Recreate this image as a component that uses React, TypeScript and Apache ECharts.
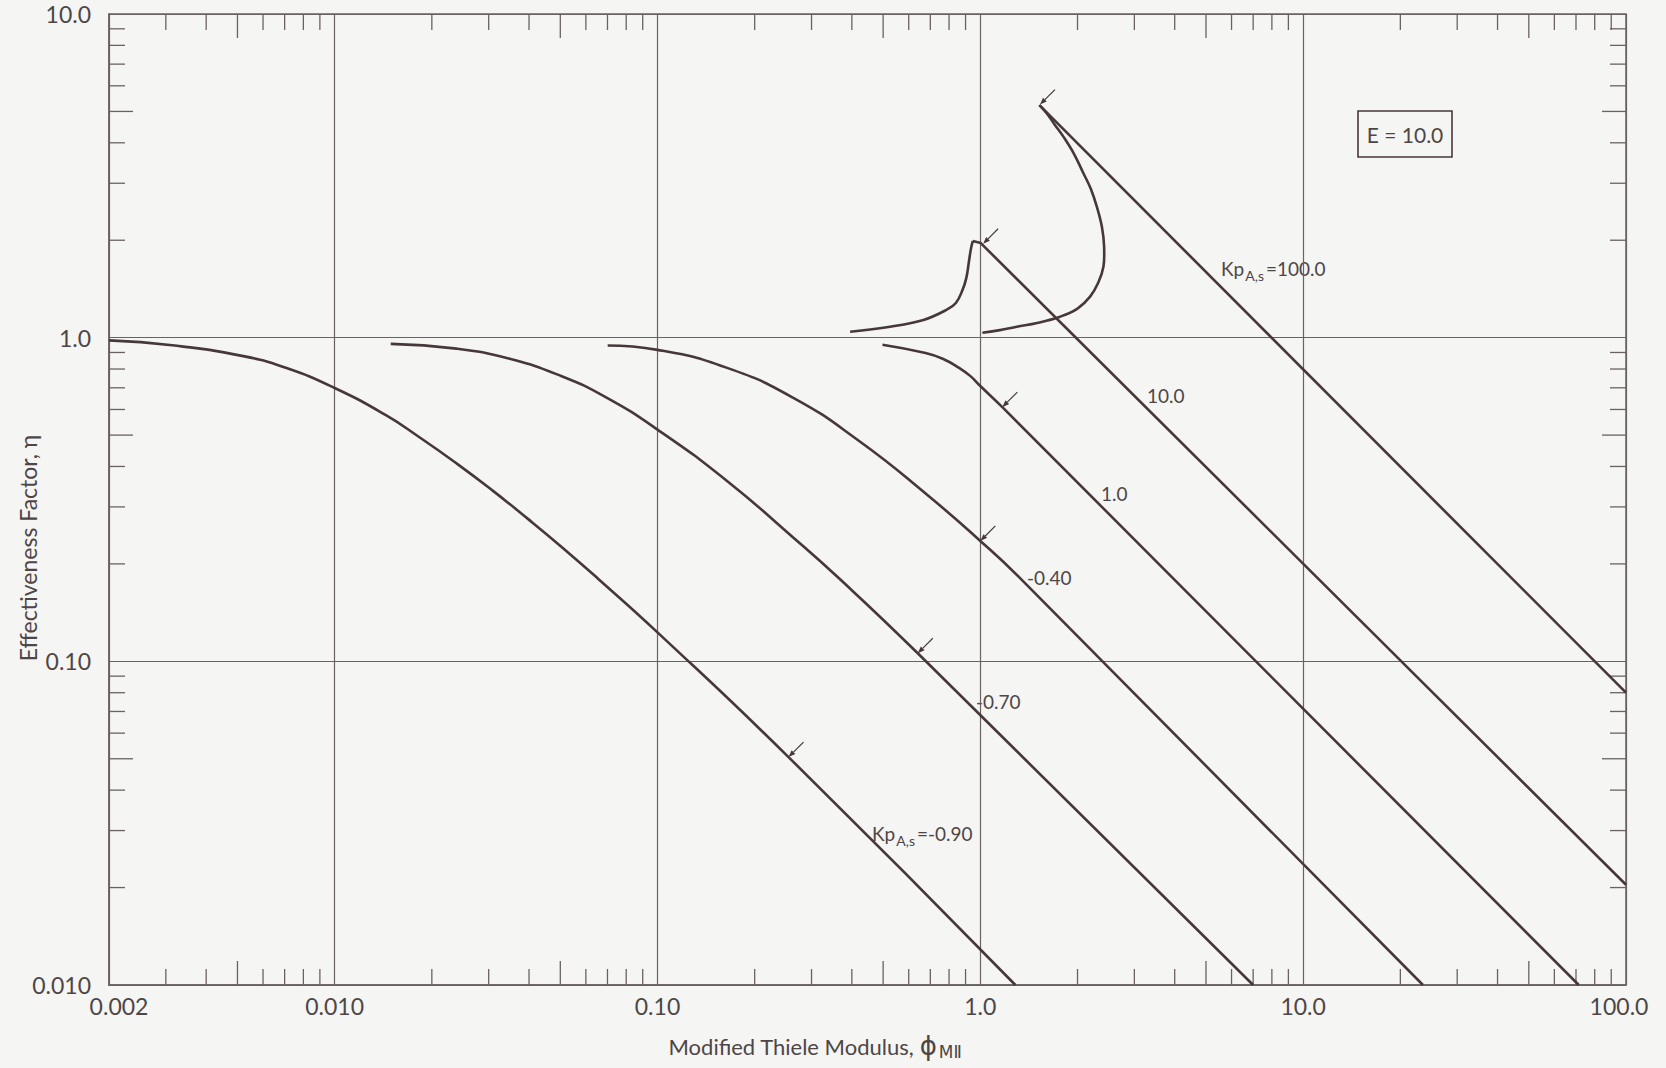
import React, { useEffect, useRef } from 'react';
import * as echarts from 'echarts';

// ---- axis ticks ----
const xTickValues = [0.002, 0.01, 0.1, 1, 10, 100];
const xTickLabels = ['0.002', '0.010', '0.10', '1.0', '10.0', '100.0'];
const yTickValues = [0.01, 0.1, 1, 10];
const yTickLabels = ['0.010', '0.10', '1.0', '10.0'];

const xMinorTicks = [
  0.003, 0.004, 0.006, 0.007, 0.008, 0.009,
  0.02, 0.03, 0.04, 0.06, 0.07, 0.08, 0.09,
  0.2, 0.3, 0.4, 0.6, 0.7, 0.8, 0.9,
  2, 3, 4, 6, 7, 8, 9,
  20, 30, 40, 60, 70, 80, 90,
];
const xMidTicks = [0.005, 0.05, 0.5, 5, 50];
const yMinorTicks = [
  0.02, 0.03, 0.04, 0.06, 0.07, 0.08, 0.09,
  0.2, 0.3, 0.4, 0.6, 0.7, 0.8, 0.9,
  2, 3, 4, 6, 7, 8, 9,
];
const yMidTicks = [0.05, 0.5, 5];

// ---- curves (phi, eta) ----
const kpMinus090 = [
  [0.002, 0.981], [0.00314, 0.947], [0.00521, 0.877], [0.00706, 0.807], [0.01, 0.699],
  [0.01437, 0.577], [0.0185, 0.489], [0.02385, 0.409], [0.03073, 0.338], [0.0396, 0.276],
  [0.051, 0.2237], [0.0657, 0.1794], [0.1, 0.1229], [0.2546, 0.0506], [1.284, 0.01],
];
const kpMinus070 = [
  [0.01492, 0.957], [0.02385, 0.925], [0.03486, 0.86], [0.0505, 0.76], [0.0691, 0.655],
  [0.1, 0.52], [0.1635, 0.362], [0.2626, 0.2419], [0.3656, 0.1802], [0.64, 0.1059], [7.0, 0.01],
];
const kpMinus040 = [
  [0.0701, 0.946], [0.1, 0.917], [0.1635, 0.808], [0.2626, 0.653], [0.4213, 0.4795],
  [0.6768, 0.33], [1.0, 0.2355], [1.313, 0.1828], [23.5, 0.01],
];
const kp1 = [
  [0.4977, 0.951], [0.6768, 0.896], [0.77, 0.858], [0.857, 0.808], [0.93, 0.762],
  [1.0, 0.709], [1.17, 0.61], [71.4, 0.01],
];
const kp10Rise = [
  [0.3951, 1.0435], [0.5255, 1.081], [0.6664, 1.134], [0.7874, 1.22], [0.84, 1.28],
  [0.88, 1.4], [0.905, 1.53], [0.922, 1.72], [0.935, 1.88], [0.948, 1.99],
];
const kp10Line = [[0.948, 1.99], [1.003, 1.96], [100, 0.0204]];
const kp100Loop = [
  [1.015, 1.036], [1.15, 1.055], [1.297, 1.081], [1.5, 1.11], [1.766, 1.161], [2.0, 1.23],
  [2.188, 1.339], [2.32, 1.48], [2.406, 1.657], [2.42, 1.8], [2.418, 1.91], [2.38, 2.2],
  [2.295, 2.54], [2.2, 2.88], [2.086, 3.22], [1.95, 3.7], [1.808, 4.18], [1.7, 4.55],
  [1.607, 4.93], [1.524, 5.23],
];
const kp100Line = [[1.524, 5.23], [100, 0.08]];

// arrow tips (phi, eta)
const arrowTips = [
  [0.2546, 0.0506], [0.64, 0.1059], [1.0, 0.2355], [1.17, 0.61], [1.02, 1.95], [1.53, 5.25],
];

const X_MIN = 0.002, X_MAX = 100, Y_MIN = 0.01, Y_MAX = 10;
const CURVE = '#463838';
const GRID = '#6a6262';
const TEXT = '#4e4646';
const BG = '#f5f5f3';
const FONT = 'Lato, "DejaVu Sans", sans-serif';

function nearestLabel(vals: number[], labels: string[], v: number) {
  let best = 0;
  for (let i = 1; i < vals.length; i++) {
    if (Math.abs(Math.log10(v) - Math.log10(vals[i])) < Math.abs(Math.log10(v) - Math.log10(vals[best]))) best = i;
  }
  return best;
}

function tickSeries(values: number[], axis: 'x' | 'y', len: number) {
  return {
    type: 'custom',
    silent: true,
    z: 3,
    clip: false,
    data: values.map((v) => (axis === 'x' ? [v, 1] : [1, v])),
    encode: { x: 0, y: 1 },
    renderItem: (params: any, api: any) => {
      const style = { stroke: GRID, lineWidth: 1.3 };
      if (axis === 'x') {
        const v = api.value(0);
        const b = api.coord([v, Y_MIN]);
        const t = api.coord([v, Y_MAX]);
        return {
          type: 'group',
          children: [
            { type: 'line', shape: { x1: b[0], y1: b[1], x2: b[0], y2: b[1] - len }, style },
            { type: 'line', shape: { x1: t[0], y1: t[1], x2: t[0], y2: t[1] + len }, style },
          ],
        };
      }
      const v = api.value(1);
      const l = api.coord([X_MIN, v]);
      const r = api.coord([X_MAX, v]);
      return {
        type: 'group',
        children: [
          { type: 'line', shape: { x1: l[0], y1: l[1], x2: l[0] + len, y2: l[1] }, style },
          { type: 'line', shape: { x1: r[0], y1: r[1], x2: r[0] - len, y2: r[1] }, style },
        ],
      };
    },
  };
}

function curve(name: string, data: number[][], smooth: number | boolean) {
  return {
    name,
    type: 'line',
    data,
    smooth,
    symbol: 'none',
    showSymbol: false,
    silent: true,
    z: 5,
    lineStyle: { color: CURVE, width: 2.6 },
  };
}

const subRich = (size: number) => ({
  n: { fontSize: size, fontFamily: FONT, fill: TEXT },
  s: { fontSize: Math.round(size * 0.72), fontFamily: FONT, fill: TEXT, padding: [15, 2, 0, 1] },
});

export default function App() {
  const ref = useRef<HTMLDivElement>(null);
  useEffect(() => {
    document.body.style.margin = '0';
    document.body.style.background = BG;
    if (!ref.current) return;
    const chart = echarts.init(ref.current, undefined, { renderer: 'svg' });
    chart.setOption({
      animation: false,
      backgroundColor: BG,
      grid: { left: 109, top: 14, right: 40, bottom: 83, show: true, borderColor: GRID, borderWidth: 1.5, backgroundColor: 'transparent' },
      xAxis: {
        type: 'log',
        logBase: 10,
        min: X_MIN,
        max: X_MAX,
        axisLine: { show: true, lineStyle: { color: GRID, width: 1.5 } },
        axisTick: { show: false },
        splitLine: { show: true, lineStyle: { color: GRID, width: 1.2 } },
        minorTick: { show: false },
        axisLabel: {
          color: TEXT,
          fontSize: 23,
          fontFamily: FONT,
          margin: 9,
          formatter: (v: number) => {
            const i = nearestLabel(xTickValues, xTickLabels, v);
            if (i === 0) return '{a|' + xTickLabels[i] + '}';
            if (i === xTickLabels.length - 1) return '{b|' + xTickLabels[i] + '}';
            return xTickLabels[i];
          },
          rich: {
            a: { fontSize: 23, fontFamily: FONT, color: TEXT, padding: [0, 0, 0, 20] },
            b: { fontSize: 23, fontFamily: FONT, color: TEXT, padding: [0, 14, 0, 0] },
          },
        },
      },
      yAxis: {
        type: 'log',
        logBase: 10,
        min: Y_MIN,
        max: Y_MAX,
        axisLine: { show: true, lineStyle: { color: GRID, width: 1.5 } },
        axisTick: { show: false },
        splitLine: { show: true, lineStyle: { color: GRID, width: 1.2 } },
        axisLabel: {
          color: TEXT,
          fontSize: 23,
          fontFamily: FONT,
          margin: 18,
          formatter: (v: number) => yTickLabels[nearestLabel(yTickValues, yTickLabels, v)],
        },
      },
      graphic: [
        {
          type: 'text',
          x: 28,
          y: 548,
          rotation: Math.PI / 2,
          style: {
            text: 'Effectiveness Factor, η',
            fontSize: 23,
            fontFamily: FONT,
            fill: TEXT,
            align: 'center',
            verticalAlign: 'middle',
          },
        },
        {
          type: 'text',
          x: 815,
          y: 1046,
          style: {
            text: '{n|Modified Thiele Modulus, }{p|ϕ}{s|MⅡ}',
            rich: {
              n: { fontSize: 22, fontFamily: FONT, fill: TEXT },
              p: { fontSize: 26, fontFamily: '"DejaVu Sans", sans-serif', fill: TEXT },
              s: { fontSize: 17, fontFamily: '"DejaVu Sans", sans-serif', fill: TEXT, padding: [12, 0, 0, 2] },
            },
            align: 'center',
            verticalAlign: 'middle',
          },
        },
        {
          type: 'rect',
          shape: { x: 1358, y: 111, width: 94, height: 46 },
          style: { fill: 'transparent', stroke: CURVE, lineWidth: 1.6 },
        },
        {
          type: 'text',
          x: 1405,
          y: 134,
          style: { text: 'E = 10.0', fontSize: 21, fontFamily: FONT, fill: TEXT, align: 'center', verticalAlign: 'middle' },
        },
        {
          type: 'text', x: 1221, y: 268,
          style: { text: '{n|Kp}{s|A,s}{n|=100.0}', rich: subRich(19), verticalAlign: 'middle' },
        },
        { type: 'text', x: 1147, y: 395, style: { text: '10.0', fontSize: 19, fontFamily: FONT, fill: TEXT, verticalAlign: 'middle' } },
        { type: 'text', x: 1101, y: 493, style: { text: '1.0', fontSize: 19, fontFamily: FONT, fill: TEXT, verticalAlign: 'middle' } },
        { type: 'text', x: 1027, y: 577, style: { text: '-0.40', fontSize: 19, fontFamily: FONT, fill: TEXT, verticalAlign: 'middle' } },
        { type: 'text', x: 976, y: 701, style: { text: '-0.70', fontSize: 19, fontFamily: FONT, fill: TEXT, verticalAlign: 'middle' } },
        {
          type: 'text', x: 872, y: 833,
          style: { text: '{n|Kp}{s|A,s}{n|=-0.90}', rich: subRich(19), verticalAlign: 'middle' },
        },
      ],
      series: [
        tickSeries(xMinorTicks, 'x', 16),
        tickSeries(xMidTicks, 'x', 24),
        tickSeries(yMinorTicks, 'y', 16),
        tickSeries(yMidTicks, 'y', 24),
        curve('Kp=-0.90', kpMinus090, 0.5),
        curve('Kp=-0.70', kpMinus070, 0.5),
        curve('Kp=-0.40', kpMinus040, 0.5),
        curve('Kp=1.0', kp1, 0.5),
        curve('Kp=10.0 rise', kp10Rise, 0.4),
        curve('Kp=10.0', kp10Line, false),
        curve('Kp=100.0 loop', kp100Loop, 0.4),
        curve('Kp=100.0', kp100Line, false),
        {
          type: 'custom',
          silent: true,
          z: 6,
          clip: false,
          data: arrowTips,
          encode: { x: 0, y: 1 },
          renderItem: (params: any, api: any) => {
            const p = api.coord([api.value(0), api.value(1)]);
            const off = 15;
            const dx = -Math.SQRT1_2, dy = Math.SQRT1_2;
            const L = 7, W = 2.6;
            const bx = p[0] - dx * L, by = p[1] - dy * L;
            const nx = -dy, ny = dx;
            return {
              type: 'group',
              children: [
                { type: 'line', shape: { x1: p[0] + off, y1: p[1] - off, x2: bx, y2: by }, style: { stroke: CURVE, lineWidth: 1.2 } },
                {
                  type: 'polygon',
                  shape: { points: [[p[0], p[1]], [bx + nx * W, by + ny * W], [bx - nx * W, by - ny * W]] },
                  style: { fill: CURVE },
                },
              ],
            };
          },
        },
      ],
    });
    return () => chart.dispose();
  }, []);
  return <div ref={ref} style={{ width: 1666, height: 1068 }} />;
}
